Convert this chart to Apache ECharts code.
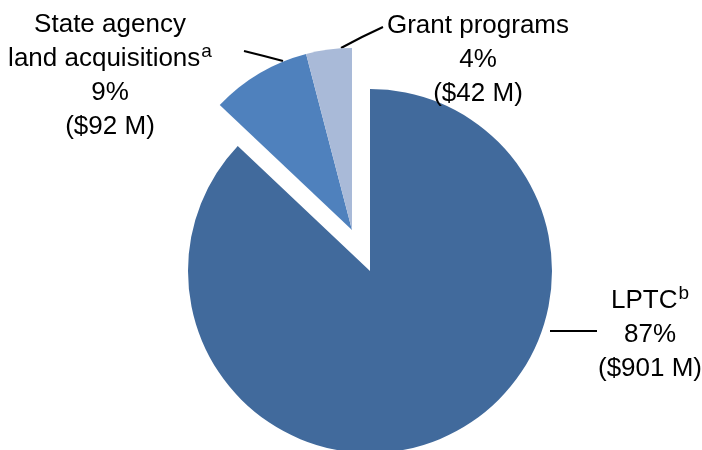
<!DOCTYPE html>
<html>
<head>
<meta charset="utf-8">
<script src="https://cdn.jsdelivr.net/npm/echarts@6/dist/echarts.min.js"></script>
<style>
  html, body { margin: 0; padding: 0; background: #fff; }
  #chart { width: 702px; height: 450px; }
</style>
</head>
<body>
<div id="chart"></div>
<script>
// funding sources, $ millions
const names = ["LPTC", "State agency land acquisitions", "Grant programs"];
const values = [901, 92, 42];
const colors = ["#416a9c", "#4f81bd", "#a9bad8"];
// label text: lines above the percentage, and a footnote mark on the last of them
const labelHead = [["LPTC"], ["State agency", "land acquisitions"], ["Grant programs"]];
const labelSup = ["b", "a", ""];
// which slices are pulled out of the pie
const exploded = [false, true, true];

// label placement (center of text block) and leader lines
const labelPos = [
  { x: 650, y: 335, line: [[550, 331], [574, 331], [597, 331]] },
  { x: 110, y: 76, line: [[283, 61], [264, 56], [244, 51]] },
  { x: 478, y: 60, line: [[341, 48], [362, 37], [383, 27]] }
];

const chart = echarts.init(document.getElementById("chart"));

const fmt = function (params) {
  const i = params.dataIndex;
  const head = labelHead[i];
  let s = "";
  head.forEach(function (h, k) {
    const last = k === head.length - 1;
    s += "{t|" + h + "}" + (last && labelSup[i] ? "{s|" + labelSup[i] + "}" : "") + "\n";
  });
  s += "{t|" + Math.round(params.percent) + "%}\n";
  s += "{t|($" + params.value + " M)}";
  return s;
};

const rich = {
  t: { fontFamily: "Liberation Sans, Arial", fontSize: 26, lineHeight: 34, color: "#000" },
  s: { fontFamily: "Liberation Sans, Arial", fontSize: 19, lineHeight: 24, color: "#000", verticalAlign: "top", padding: [0, 0, 0, 1] }
};

function makeData(outPart) {
  return values.map(function (v, i) {
    const visible = exploded[i] === outPart;
    return {
      name: names[i],
      value: v,
      itemStyle: { color: visible ? colors[i] : "transparent" },
      label: { show: visible },
      labelLine: { show: visible }
    };
  });
}

function makeSeries(center, outPart) {
  return {
    type: "pie",
    center: center,
    radius: [0, 182],
    startAngle: 90,
    clockwise: true,
    silent: true,
    animation: false,
    minShowLabelAngle: 0,
    avoidLabelOverlap: false,
    data: makeData(outPart),
    label: {
      position: "outside",
      formatter: fmt,
      rich: rich,
      align: "center"
    },
    labelLine: {
      lineStyle: { color: "#000", width: 2 }
    },
    labelLayout: function (params) {
      const p = labelPos[params.dataIndex];
      return {
        x: p.x,
        y: p.y,
        align: "center",
        verticalAlign: "middle",
        labelLinePoints: p.line
      };
    }
  };
}

chart.setOption({
  backgroundColor: "#fff",
  series: [
    makeSeries([370, 271], false),
    makeSeries([352, 230], true)
  ]
});
</script>
</body>
</html>
